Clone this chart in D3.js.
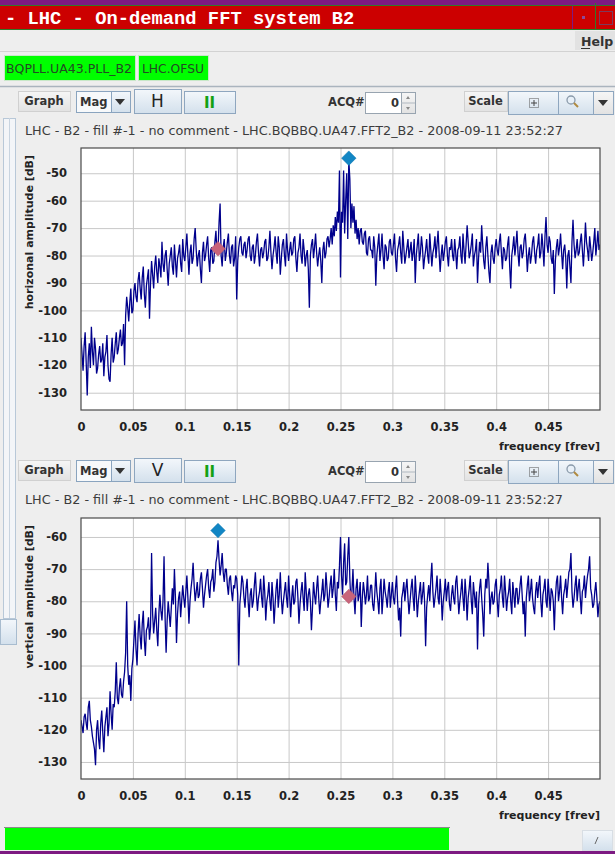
<!DOCTYPE html>
<html>
<head>
<meta charset="utf-8">
<script src="https://cdn.jsdelivr.net/npm/d3@7"></script>
<style>
    body { margin: 0; background: #eeeeee; }
    svg { display: block; font-family: "DejaVu Sans", sans-serif; }
</style>
</head>
<body>
<div id="app"></div>
<script>
/* * * * * * * * * * * * * *
*      FFT data (dB)       *
* * * * * * * * * * * * * */

// spectrum bins, one value every freqStep [frev], starting at 0
const freqStep = 0.001;

const hAmplitude = [
    -110, -116, -122, -113, -108, -119, -131, -117, -112, -121, -106, -115, -120, -110, -114, -123, -121, -116, -113, -119, -118, -112, -124, -117, -115,
    -109, -120, -125, -126, -116, -110, -119, -117, -112, -108, -116, -114, -110, -107, -113, -112, -105, -120, -102, -95, -99, -104, -97, -92, -101,
    -100, -93, -90, -95, -97, -89, -86, -92, -96, -88, -84, -94, -99, -91, -88, -85, -103, -90, -82, -87, -92, -84, -80, -86, -90,
    -81, -84, -88, -75, -83, -86, -80, -78, -85, -91, -83, -80, -77, -84, -87, -76, -82, -88, -81, -79, -76, -83, -86, -74, -80,
    -82, -77, -72, -80, -87, -79, -76, -83, -81, -74, -70, -78, -84, -80, -78, -85, -90, -79, -75, -82, -80, -76, -73, -81, -86,
    -78, -77, -83, -82, -75, -71, -79, -78, -68, -61, -80, -84, -77, -74, -82, -79, -75, -72, -80, -83, -77, -76, -84, -81, -73,
    -96, -82, -77, -74, -73, -79, -80, -76, -75, -81, -78, -74, -73, -80, -82, -77, -76, -83, -80, -75, -72, -79, -84, -78, -77,
    -81, -79, -75, -74, -82, -81, -77, -71, -79, -85, -80, -77, -73, -79, -83, -73, -77, -87, -81, -76, -74, -80, -84, -72, -78,
    -82, -78, -75, -80, -79, -74, -73, -81, -86, -79, -77, -72, -80, -83, -74, -78, -84, -80, -78, -85, -99, -80, -76, -74, -81,
    -77, -72, -79, -84, -80, -77, -82, -90, -78, -75, -81, -79, -74, -73, -77, -74, -70, -76, -69, -73, -66, -71, -64, -68, -49,
    -88, -64, -68, -49, -72, -60, -50, -74, -45, -52, -70, -61, -68, -62, -72, -67, -74, -70, -76, -71, -70, -75, -76, -72, -71,
    -79, -80, -74, -73, -78, -78, -81, -73, -77, -91, -80, -76, -72, -82, -78, -72, -80, -85, -76, -77, -82, -81, -75, -74, -79,
    -80, -76, -72, -81, -86, -78, -76, -73, -79, -83, -71, -77, -83, -80, -77, -74, -81, -78, -75, -82, -79, -74, -90, -80, -76,
    -72, -82, -79, -73, -77, -85, -81, -78, -74, -80, -83, -72, -78, -84, -79, -77, -73, -81, -76, -71, -79, -86, -80, -76, -82,
    -79, -75, -73, -80, -84, -77, -78, -74, -80, -82, -74, -79, -85, -78, -77, -73, -80, -83, -72, -78, -83, -76, -69, -75, -81,
    -79, -76, -72, -84, -80, -78, -74, -90, -81, -75, -79, -69, -76, -82, -85, -77, -73, -80, -86, -90, -79, -76, -81, -83, -77,
    -74, -78, -80, -75, -72, -79, -85, -77, -78, -82, -81, -76, -73, -84, -92, -80, -77, -73, -80, -76, -71, -79, -84, -77, -76,
    -81, -79, -74, -72, -78, -86, -80, -77, -83, -80, -75, -73, -79, -83, -78, -76, -72, -81, -79, -72, -77, -84, -73, -66, -76,
    -79, -73, -75, -81, -83, -78, -94, -82, -77, -74, -80, -77, -72, -79, -85, -78, -76, -81, -92, -80, -78, -84, -90, -75, -67,
    -76, -81, -78, -74, -80, -79, -75, -72, -78, -84, -77, -68, -75, -78, -82, -73, -77, -82, -79, -75, -70, -80, -76, -71, -78,
    -76
];

const vAmplitude = [
    -117, -119, -121, -116, -115, -118, -120, -113, -111, -117, -119, -122, -124, -126, -131, -120, -117, -123, -126, -118, -114, -121, -127, -119, -116,
    -113, -122, -118, -108, -115, -120, -112, -113, -108, -99, -110, -112, -107, -104, -109, -110, -105, -102, -96, -80, -100, -106, -103, -111, -101,
    -98, -92, -86, -95, -100, -90, -84, -91, -95, -87, -83, -92, -97, -89, -88, -85, -92, -88, -65, -84, -90, -86, -82, -89, -94,
    -84, -78, -83, -86, -80, -66, -85, -96, -86, -80, -84, -88, -82, -76, -81, -70, -79, -93, -84, -79, -77, -85, -80, -75, -79,
    -82, -77, -72, -79, -87, -80, -76, -73, -68, -75, -80, -77, -74, -79, -78, -73, -71, -76, -82, -78, -75, -72, -70, -76, -79,
    -74, -73, -70, -77, -74, -68, -66, -61, -67, -72, -69, -65, -71, -74, -70, -70, -75, -78, -73, -72, -77, -80, -75, -76, -72,
    -73, -78, -100, -81, -77, -72, -74, -79, -82, -76, -73, -80, -85, -78, -76, -82, -80, -75, -71, -78, -83, -79, -77, -73, -79,
    -82, -72, -77, -86, -80, -78, -74, -80, -83, -74, -79, -87, -81, -76, -73, -82, -78, -71, -79, -84, -80, -77, -74, -79, -82,
    -72, -78, -85, -79, -75, -81, -80, -74, -73, -79, -87, -81, -77, -74, -79, -83, -71, -77, -83, -78, -76, -80, -89, -82, -74,
    -78, -81, -76, -72, -79, -84, -80, -77, -73, -80, -78, -71, -76, -82, -79, -75, -72, -79, -76, -70, -78, -83, -74, -76, -69,
    -60, -72, -78, -68, -62, -75, -74, -66, -60, -73, -80, -77, -70, -79, -84, -76, -73, -80, -78, -74, -88, -79, -74, -77, -81,
    -78, -72, -80, -79, -75, -75, -81, -83, -78, -71, -77, -80, -84, -76, -73, -84, -79, -73, -77, -79, -82, -77, -74, -82, -78,
    -74, -79, -81, -76, -72, -80, -86, -82, -91, -79, -77, -74, -80, -76, -73, -79, -84, -80, -76, -73, -79, -83, -72, -78, -85,
    -80, -77, -74, -81, -78, -74, -80, -94, -82, -78, -75, -80, -73, -68, -77, -82, -79, -76, -72, -79, -81, -73, -78, -86, -80,
    -77, -73, -80, -76, -74, -81, -83, -78, -75, -79, -81, -74, -72, -78, -84, -80, -77, -73, -79, -83, -73, -78, -86, -79, -76,
    -72, -80, -84, -74, -78, -82, -77, -95, -81, -76, -73, -79, -84, -91, -78, -73, -76, -68, -74, -84, -79, -77, -81, -80, -75,
    -73, -80, -85, -78, -76, -72, -79, -82, -72, -77, -83, -79, -77, -73, -80, -84, -74, -78, -82, -76, -76, -81, -79, -75, -72,
    -78, -84, -80, -91, -79, -75, -72, -80, -77, -73, -79, -82, -84, -77, -74, -79, -75, -72, -80, -85, -78, -76, -73, -80, -82,
    -73, -78, -83, -76, -77, -80, -89, -79, -74, -72, -80, -77, -72, -79, -84, -78, -76, -73, -79, -75, -71, -70, -65, -77, -82,
    -79, -75, -72, -80, -76, -73, -79, -84, -77, -76, -72, -79, -75, -72, -70, -66, -76, -78, -82, -81, -77, -74, -79, -85, -81,
    -80
];

// tune markers: peak (blue) and other plane (pink)
const hMarkers = [
    {freq: 0.132, db: -77.5, color: "#c8647a"},
    {freq: 0.258, db: -44.5, color: "#1286c4"}
];
const vMarkers = [
    {freq: 0.132, db: -58, color: "#1286c4"},
    {freq: 0.258, db: -78.5, color: "#c8647a"}
];

const freqTicks = [0, 0.05, 0.1, 0.15, 0.2, 0.25, 0.3, 0.35, 0.4, 0.45];
const hTicks = [-50, -60, -70, -80, -90, -100, -110, -120, -130];
const vTicks = [-60, -70, -80, -90, -100, -110, -120, -130];

const subTitle = "LHC - B2 - fill #-1 - no comment - LHC.BQBBQ.UA47.FFT2_B2 - 2008-09-11 23:52:27";


/* * * * * * * * * * * * * *
*        FFT plot          *
* * * * * * * * * * * * * */

class FftPlotVis {

    constructor(svg, config) {
        this.svg = svg;
        this.config = config;

        this.initVis();
    }

    /* Initialize visualization */
    initVis() {
        let vis = this;
        let c = vis.config;

        vis.left = 81;
        vis.right = 600;
        vis.top = c.top;
        vis.bottom = c.bottom;

        vis.x = d3.scaleLinear().domain([0, 0.5]).range([vis.left, vis.right]);
        vis.y = d3.scaleLinear().domain(c.yDomain).range([vis.bottom, vis.top]);

        vis.g = vis.svg.append("g");

        // plot background
        vis.g.append("rect")
            .attr("x", vis.left)
            .attr("y", vis.top)
            .attr("width", vis.right - vis.left)
            .attr("height", vis.bottom - vis.top)
            .attr("fill", "white");

        // grid lines
        vis.g.append("g")
            .attr("transform", `translate(0, ${vis.bottom})`)
            .call(d3.axisBottom(vis.x).tickValues(freqTicks.slice(1))
                .tickSize(-(vis.bottom - vis.top)).tickFormat(""))
            .call(g => g.select(".domain").remove())
            .selectAll("line").attr("stroke", "#c8c8c8");

        vis.g.append("g")
            .attr("transform", `translate(${vis.left}, 0)`)
            .call(d3.axisLeft(vis.y).tickValues(c.ticks)
                .tickSize(-(vis.right - vis.left)).tickFormat(""))
            .call(g => g.select(".domain").remove())
            .selectAll("line").attr("stroke", "#c8c8c8");

        // tick labels
        vis.g.append("g")
            .attr("transform", `translate(0, ${vis.bottom})`)
            .call(d3.axisBottom(vis.x).tickValues(freqTicks)
                .tickSize(0).tickPadding(13).tickFormat(d => String(d)))
            .call(g => g.select(".domain").remove())
            .selectAll("text")
            .attr("font-family", "DejaVu Sans")
            .attr("font-weight", "bold")
            .attr("font-size", 11.5)
            .attr("fill", "#222");

        vis.g.append("g")
            .attr("transform", `translate(${vis.left}, 0)`)
            .call(d3.axisLeft(vis.y).tickValues(c.ticks)
                .tickSize(0).tickPadding(14).tickFormat(d => String(d)))
            .call(g => g.select(".domain").remove())
            .selectAll("text")
            .attr("font-family", "DejaVu Sans")
            .attr("font-weight", "bold")
            .attr("font-size", 11.5)
            .attr("fill", "#222");

        // axis titles
        vis.g.append("text")
            .attr("transform", `translate(33, ${vis.top + 7}) rotate(-90)`)
            .attr("text-anchor", "end")
            .attr("font-weight", "bold")
            .attr("font-size", 11)
            .attr("fill", "#222")
            .text(c.yTitle);

        vis.g.append("text")
            .attr("x", vis.right)
            .attr("y", vis.bottom + 40)
            .attr("text-anchor", "end")
            .attr("font-weight", "bold")
            .attr("font-size", 11)
            .attr("fill", "#222")
            .text("frequency [frev]");

        // clip for the trace
        vis.g.append("clipPath")
            .attr("id", c.id + "-clip")
            .append("rect")
            .attr("x", vis.left)
            .attr("y", vis.top)
            .attr("width", vis.right - vis.left)
            .attr("height", vis.bottom - vis.top);

        vis.wrangleData();
    }

    /* Data wrangling */
    wrangleData() {
        let vis = this;

        vis.points = vis.config.data.map((db, i) => ({freq: i * freqStep, db: db}));

        vis.updateVis();
    }

    /* Update visualization */
    updateVis() {
        let vis = this;

        let line = d3.line()
            .x(d => vis.x(d.freq))
            .y(d => vis.y(d.db));

        vis.g.append("path")
            .datum(vis.points)
            .attr("clip-path", `url(#${vis.config.id}-clip)`)
            .attr("d", line)
            .attr("fill", "none")
            .attr("stroke", "#00008c")
            .attr("stroke-width", 1.3)
            .attr("stroke-linejoin", "bevel");

        // frame
        vis.g.append("rect")
            .attr("x", vis.left)
            .attr("y", vis.top)
            .attr("width", vis.right - vis.left)
            .attr("height", vis.bottom - vis.top)
            .attr("fill", "none")
            .attr("stroke", "#4a4a4a")
            .attr("stroke-width", 1.2);

        // markers
        vis.g.selectAll(".marker")
            .data(vis.config.markers)
            .enter()
            .append("path")
            .attr("class", "marker")
            .attr("d", d3.symbol(d3.symbolSquare, 105))
            .attr("transform", d => `translate(${vis.x(d.freq)}, ${vis.y(d.db)}) rotate(45)`)
            .attr("fill", d => d.color)
            .attr("stroke", d => d3.color(d.color).darker(0.3))
            .attr("stroke-width", 0.5);
    }
}


/* * * * * * * * * * * * * *
*     window chrome        *
* * * * * * * * * * * * * */

let svg = d3.select("#app").append("svg")
    .attr("width", 615)
    .attr("height", 854);

let defs = svg.append("defs");
let gradBlue = defs.append("linearGradient").attr("id", "gradBlue")
    .attr("x1", 0).attr("y1", 0).attr("x2", 0).attr("y2", 1);
gradBlue.append("stop").attr("offset", "0%").attr("stop-color", "#f3f7fb");
gradBlue.append("stop").attr("offset", "100%").attr("stop-color", "#d3e0ec");
let gradGray = defs.append("linearGradient").attr("id", "gradGray")
    .attr("x1", 0).attr("y1", 0).attr("x2", 0).attr("y2", 1);
gradGray.append("stop").attr("offset", "0%").attr("stop-color", "#f6f6f6");
gradGray.append("stop").attr("offset", "100%").attr("stop-color", "#e2e2e2");

svg.append("rect").attr("width", 615).attr("height", 854).attr("fill", "#eeeeee");

function box(x, y, w, h, fill, stroke) {
    return svg.append("rect")
        .attr("x", x + 0.5).attr("y", y + 0.5)
        .attr("width", w).attr("height", h)
        .attr("fill", fill)
        .attr("stroke", stroke);
}

function label(x, y, txt, size, opts = {}) {
    return svg.append("text")
        .attr("x", x).attr("y", y)
        .attr("font-size", size)
        .attr("font-weight", opts.weight || "bold")
        .attr("font-family", opts.family || "DejaVu Sans")
        .attr("text-anchor", opts.anchor || "start")
        .attr("fill", opts.fill || "#333")
        .text(txt);
}

// title bar
svg.append("rect").attr("x", 0).attr("y", 0).attr("width", 615).attr("height", 5).attr("fill", "#7d1a82");
svg.append("rect").attr("x", 0).attr("y", 5).attr("width", 615).attr("height", 25).attr("fill", "#cc0000");
svg.append("line").attr("x1", 0).attr("x2", 615).attr("y1", 5.5).attr("y2", 5.5).attr("stroke", "#2f7a2a");
svg.append("line").attr("x1", 0).attr("x2", 615).attr("y1", 29.5).attr("y2", 29.5).attr("stroke", "#2f7a2a");
svg.append("line").attr("x1", 572.5).attr("x2", 572.5).attr("y1", 6).attr("y2", 29).attr("stroke", "#7d1a82");
svg.append("line").attr("x1", 595.5).attr("x2", 595.5).attr("y1", 3).attr("y2", 29).attr("stroke", "#2f7a2a");
svg.append("rect").attr("x", 582).attr("y", 16).attr("width", 3).attr("height", 3).attr("fill", "#8a4a9a");
svg.append("rect").attr("x", 599.5).attr("y", 11.5).attr("width", 13).attr("height", 13)
    .attr("fill", "none").attr("stroke", "#7d3a5a");
label(5, 24, "- LHC - On-demand FFT system B2", 18.8, {family: "Liberation Mono", fill: "white"});

// menu bar
svg.append("rect").attr("x", 575).attr("y", 31).attr("width", 40).attr("height", 19).attr("fill", "#e2e2e2");
label(581, 46, "Help", 12.5, {fill: "#333"});
svg.append("line").attr("x1", 581).attr("x2", 590).attr("y1", 48.5).attr("y2", 48.5).attr("stroke", "#333");
svg.append("line").attr("x1", 0).attr("x2", 615).attr("y1", 51.5).attr("y2", 51.5).attr("stroke", "#d2d2d2");

// device buttons
box(4, 55, 131, 25, "#00ff00", "#c8e8c8");
label(6, 73, "BQPLL.UA43.PLL_B2", 13, {weight: "normal", fill: "#234a23"})
    .attr("textLength", 126).attr("lengthAdjust", "spacingAndGlyphs");
box(138, 55, 70, 25, "#00ff00", "#c8e8c8");
label(142, 73, "LHC.OFSU", 13, {weight: "normal", fill: "#234a23"})
    .attr("textLength", 62).attr("lengthAdjust", "spacingAndGlyphs");
svg.append("line").attr("x1", 0).attr("x2", 615).attr("y1", 86.5).attr("y2", 86.5)
    .attr("stroke", "#aab4be").attr("stroke-width", 1.5);

// left side panel
box(3, 118, 12, 500, "#f3f5f8", "#b8c8d8");
svg.append("line").attr("x1", 9.5).attr("x2", 9.5).attr("y1", 118).attr("y2", 618).attr("stroke", "#c8d4e0");
box(0, 619, 16, 25, "url(#gradBlue)", "#a8bccf");

function toolbar(y0, plane) {
    box(18, y0 + 2, 52, 20, "url(#gradGray)", "#d0d0d0");
    label(44, y0 + 16, "Graph", 11.5, {anchor: "middle"});

    box(76, y0 + 2, 35, 21, "#f7f9fb", "#8aa4bf");
    label(80, y0 + 17, "Mag", 11.5);
    box(111, y0 + 2, 19, 21, "url(#gradBlue)", "#8aa4bf");
    svg.append("path").attr("d", `M115,${y0 + 10}h10l-5,6z`).attr("fill", "#333");

    box(134, y0, 47, 24, "url(#gradBlue)", "#8ea6bf");
    label(157.5, y0 + 18, plane, 17, {weight: "normal", anchor: "middle", fill: "#222"});

    box(184, y0 + 2, 51, 22, "url(#gradBlue)", "#8ea6bf");
    label(209.5, y0 + 19, "II", 15, {anchor: "middle", fill: "#13a013"});

    label(328, y0 + 17, "ACQ#", 11.5);
    box(365, y0 + 3, 36, 21, "white", "#98a4b0");
    label(399, y0 + 18, "0", 11.5, {anchor: "end"});
    box(401, y0 + 3, 14, 21, "url(#gradGray)", "#98a4b0");
    svg.append("line").attr("x1", 401).attr("x2", 415).attr("y1", y0 + 14).attr("y2", y0 + 14).attr("stroke", "#b0b8c0");
    svg.append("path").attr("d", `M406,${y0 + 10}h4l-2,-3z M406,${y0 + 18}h4l-2,3z`).attr("fill", "#888");

    box(464, y0 + 2, 43, 20, "url(#gradGray)", "#d0d0d0");
    label(485.5, y0 + 16, "Scale", 11.5, {anchor: "middle"});

    box(508, y0 + 2, 50, 23, "url(#gradBlue)", "#8ea6bf");
    svg.append("rect").attr("x", 529.5).attr("y", y0 + 9.5).attr("width", 9).attr("height", 9)
        .attr("fill", "none").attr("stroke", "#555").attr("stroke-dasharray", "1,1");
    svg.append("path").attr("d", `M531,${y0 + 14}h6 M534,${y0 + 11}v6`).attr("stroke", "#444");

    box(558, y0 + 2, 35, 23, "url(#gradBlue)", "#8ea6bf");
    svg.append("circle").attr("cx", 571).attr("cy", y0 + 11).attr("r", 4)
        .attr("fill", "#e8f0f8").attr("stroke", "#8a9aaa").attr("stroke-width", 1.3);
    svg.append("line").attr("x1", 574).attr("y1", y0 + 14).attr("x2", 578).attr("y2", y0 + 18)
        .attr("stroke", "#b08a40").attr("stroke-width", 2);

    box(593, y0 + 2, 20, 23, "url(#gradGray)", "#8ea6bf");
    svg.append("path").attr("d", `M598,${y0 + 11}h10l-5,6z`).attr("fill", "#333");

    label(25, y0 + 46, subTitle, 12.5, {weight: "normal", fill: "#3c3c3c"})
        .attr("textLength", 538).attr("lengthAdjust", "spacingAndGlyphs");
}

toolbar(89, "H");
toolbar(458, "V");

// bottom status
svg.append("line").attr("x1", 4).attr("x2", 450).attr("y1", 827.5).attr("y2", 827.5).attr("stroke", "#8a8a8a");
svg.append("rect").attr("x", 5).attr("y", 828).attr("width", 444).attr("height", 22).attr("fill", "#00ff00");
box(582, 830, 30, 20, "url(#gradBlue)", "#d8dee4");
svg.append("line").attr("x1", 595).attr("y1", 844).attr("x2", 598).attr("y2", 837).attr("stroke", "#666");
svg.append("rect").attr("x", 0).attr("y", 851).attr("width", 615).attr("height", 3).attr("fill", "#7d1a82");


/* * * * * * * * * * * * * *
*        the plots         *
* * * * * * * * * * * * * */

let hPlot = new FftPlotVis(svg, {
    id: "hplot",
    top: 148,
    bottom: 410,
    yDomain: [-136.3, -40.8],
    ticks: hTicks,
    yTitle: "horizonal amplitude [dB]",
    data: hAmplitude,
    markers: hMarkers
});

let vPlot = new FftPlotVis(svg, {
    id: "vplot",
    top: 518,
    bottom: 779,
    yDomain: [-135.3, -54.1],
    ticks: vTicks,
    yTitle: "vertical amplitude [dB]",
    data: vAmplitude,
    markers: vMarkers
});
</script>
</body>
</html>
